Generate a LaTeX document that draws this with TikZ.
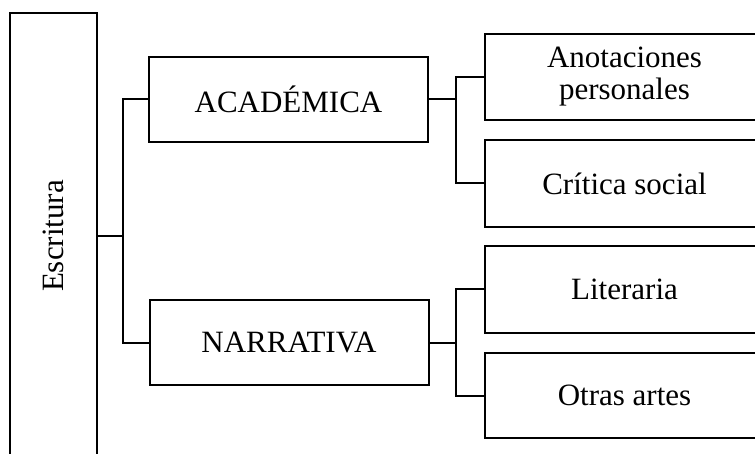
\documentclass[tikz,border=0pt]{standalone}
\usepackage{fontspec}
\setmainfont{Liberation Serif}
\begin{document}
\begin{tikzpicture}[x=1pt,y=-1pt,
  box/.style={draw=black, line width=2pt, minimum width=279pt, minimum height=85pt,
    inner sep=0pt, align=center, font=\fontsize{31}{32}\selectfont},
  conn/.style={draw=black, line width=2pt}]
\useasboundingbox (0,0) rectangle (755,454);
\node[box, rotate=90, minimum width=446pt, minimum height=87pt] (esc) at (53.5,236) {Escritura};
\node[box] (aca) at (288.5,99.5) {ACADÉMICA};
\node[box] (nar) at (289,342.5) {NARRATIVA};
\node[box, minimum height=86pt] (ano) at (624.5,77) {Anotaciones\\personales};
\node[box, minimum height=87pt] (cri) at (624.5,183.5) {Crítica social};
\node[box, minimum height=87pt] (lit) at (624.5,289.5) {Literaria};
\node[box] (otr) at (624.5,395.5) {Otras artes};
\draw[conn] (aca.west) -- ++(-25,0) coordinate (ja) |- (nar.west);
\draw[conn] (esc.south) -- (esc.south -| ja);
\draw[conn] (ano.west) -- ++(-28,0) coordinate (jb) |- (cri.west);
\draw[conn] (aca.east) -- (aca.east -| jb);
\draw[conn] (lit.west) -- ++(-28,0) coordinate (jc) |- (otr.west);
\draw[conn] (nar.east) -- (nar.east -| jc);
\end{tikzpicture}
\end{document}
